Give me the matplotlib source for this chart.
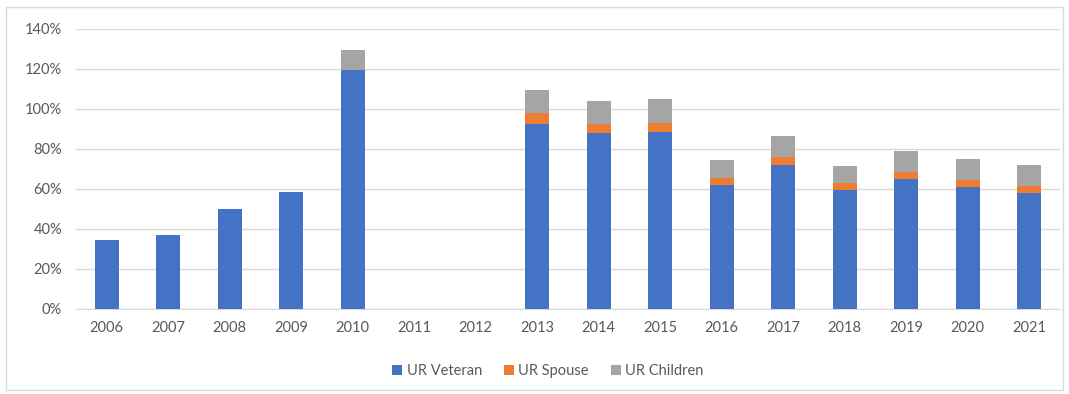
import matplotlib
matplotlib.use("Agg")
import matplotlib.pyplot as plt
import matplotlib.patches as mpatches
import numpy as np

plt.rcParams["font.family"] = ["Lato", "DejaVu Sans"]

years = ["2006", "2007", "2008", "2009", "2010", "2011", "2012", "2013",
         "2014", "2015", "2016", "2017", "2018", "2019", "2020", "2021"]
veteran = [34.5, 37.2, 50.2, 58.5, 119.5, 0, 0, 92.6, 87.8, 88.3, 62.1, 72.2, 59.3, 65.2, 61.0, 58.2]
spouse = [0, 0, 0, 0, 0, 0, 0, 5.4, 4.7, 4.7, 3.5, 3.6, 3.5, 3.3, 3.5, 3.3]
children = [0, 0, 0, 0, 10.0, 0, 0, 11.6, 11.5, 12.0, 8.7, 10.9, 8.7, 10.5, 10.5, 10.7]

vet = np.array(veteran) / 100
sp = np.array(spouse) / 100
ch = np.array(children) / 100

fig = plt.figure(figsize=(10.69, 3.94), dpi=100)
fig.patch.set_facecolor("white")
ax = fig.add_axes([76 / 1069, 1 - 309 / 394, 984 / 1069, 280 / 394])

x = np.arange(len(years))
w = 0.39
ax.bar(x, vet, w, color="#4472C4", label="UR Veteran", zorder=3)
ax.bar(x, sp, w, bottom=vet, color="#ED7D31", label="UR Spouse", zorder=3)
ax.bar(x, ch, w, bottom=vet + sp, color="#A5A5A5", label="UR Children", zorder=3)

ax.set_xlim(-0.5, len(years) - 0.5)
ax.set_ylim(0, 1.4)
ax.set_yticks(np.arange(0, 1.41, 0.2))
ax.set_yticklabels([f"{int(round(v * 100))}%" for v in np.arange(0, 1.41, 0.2)])
ax.set_xticks(x)
ax.set_xticklabels(years)
ax.grid(axis="y", color="#D9D9D9", linewidth=1, zorder=0)
for s in ["top", "right", "left"]:
    ax.spines[s].set_visible(False)
ax.spines["bottom"].set_color("#D9D9D9")
ax.tick_params(axis="both", length=0, labelsize=10.5, colors="#595959")
ax.tick_params(axis="x", pad=9)
ax.tick_params(axis="y", pad=10)

leg = fig.legend(loc="center", bbox_to_anchor=(548 / 1069, 1 - 371 / 394), ncol=3,
                 frameon=False, fontsize=10.5, handlelength=0.7, handleheight=0.7,
                 handletextpad=0.3, columnspacing=1.5)
for t in leg.get_texts():
    t.set_color("#595959")

fig.add_artist(mpatches.Rectangle((6 / 1069, 1 - 390 / 394), 1057 / 1069, 383 / 394,
                                  transform=fig.transFigure, fill=False,
                                  edgecolor="#D9D9D9", linewidth=1))

fig.savefig("out.png", dpi=100, facecolor="white")
